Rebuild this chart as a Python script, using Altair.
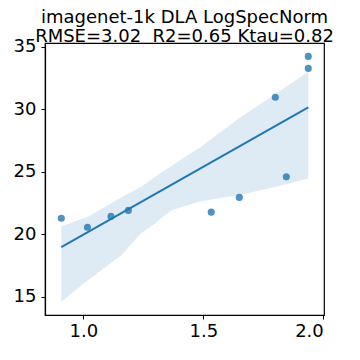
import altair as alt
import pandas as pd

# scatter points
pt_x = [0.908, 1.017, 1.115, 1.1875, 1.533, 1.65, 1.846, 1.80, 1.9375, 1.9375]
pt_y = [21.30, 20.58, 21.44, 21.92, 21.78, 22.96, 24.60, 30.96, 33.27, 34.23]

# regression line end points
line_x = [0.908, 1.9375]
line_y = [18.99, 30.16]

# confidence band
band_x = [0.908, 1.02, 1.16, 1.24, 1.30, 1.33, 1.37, 1.49, 1.65, 1.80, 1.9375]
band_hi = [20.66, 21.41, 23.0, 23.8, 24.6, 25.0, 25.5, 27.0, 29.3, 31.2, 33.0]
band_lo = [14.62, 16.35, 18.35, 20.1, 20.9, 21.4, 21.95, 22.65, 23.15, 23.8, 24.47]

x_ticks = [1.0, 1.5, 2.0]
y_ticks = [15, 20, 25, 30, 35]

title_line1 = "imagenet-1k DLA LogSpecNorm"
title_line2 = "RMSE=3.02\u00a0\u00a0R2=0.65 Ktau=0.82"

pts = pd.DataFrame({"x": pt_x, "y": pt_y})
ln = pd.DataFrame({"x": line_x, "y": line_y})
band = pd.DataFrame({"x": band_x, "lo": band_lo, "hi": band_hi})

xs = alt.Scale(domain=[0.84, 2.003], nice=False, zero=False)
ys = alt.Scale(domain=[13.56, 35.3], nice=False, zero=False)

xax = alt.Axis(values=x_ticks, format=".1f", title=None, grid=False, labelPadding=3)
yax = alt.Axis(values=y_ticks, format="d", title=None, grid=False, labelPadding=5)

blue = "#1f77b4"

area = alt.Chart(band).mark_area(color=blue, opacity=0.15).encode(
    x=alt.X("x:Q", scale=xs, axis=xax),
    y=alt.Y("lo:Q", scale=ys, axis=yax),
    y2="hi:Q",
)
line = alt.Chart(ln).mark_line(color=blue, strokeWidth=2).encode(
    x=alt.X("x:Q", scale=xs),
    y=alt.Y("y:Q", scale=ys),
)
points = alt.Chart(pts).mark_circle(color=blue, opacity=0.8, size=50).encode(
    x=alt.X("x:Q", scale=xs),
    y=alt.Y("y:Q", scale=ys),
)

chart = (
    alt.layer(area, line, points)
    .properties(
        width=279,
        height=272,
        title=alt.TitleParams(
            text=title_line1,
            subtitle=title_line2,
            font="DejaVu Sans",
            fontSize=18,
            fontWeight="normal",
            color="black",
            subtitleFont="DejaVu Sans",
            subtitleFontSize=18,
            subtitleColor="black",
            subtitlePadding=1,
            anchor="middle",
            frame="group",
            offset=-8,
        ),
        padding={"left": 37, "top": 35, "right": 20, "bottom": 30},
        autosize=alt.AutoSizeParams(type="none"),
    )
    .configure_view(stroke="black", strokeWidth=1.2)
    .configure_axis(
        labelFont="DejaVu Sans",
        labelFontSize=18,
        labelColor="black",
        domainColor="black",
        tickColor="black",
        tickSize=4,
        domainWidth=1.2,
    )
)

chart.save("out.html", embed_options={"renderer": "svg", "actions": False})
